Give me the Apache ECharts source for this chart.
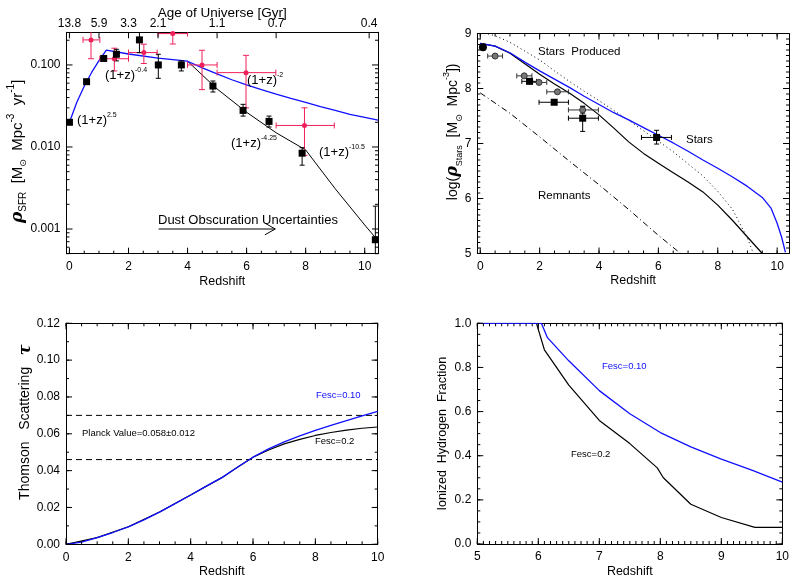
<!DOCTYPE html>
<html>
<head>
<meta charset="utf-8">
<script src="https://cdn.jsdelivr.net/npm/echarts@6/dist/echarts.min.js"></script>
</head>
<body style="margin:0;background:#fff">
<div id="chart" style="width:792px;height:581px"></div>
<script>
const FONT = 'Liberation Sans'

// ---- panel 1: star formation rate density (log) ----
const sfrModelBlue = [[0, 0.020], [0.25, 0.035], [0.5, 0.055], [0.75, 0.081], [1.0, 0.113], [1.25, 0.152], [2, 0.136], [3, 0.121], [4, 0.111],
  [4.5, 0.092], [5, 0.078], [5.5, 0.066], [6, 0.057], [6.5, 0.050], [7, 0.044], [7.5, 0.039], [8, 0.035], [8.5, 0.031], [9, 0.028], [9.5, 0.025], [10, 0.023], [10.45, 0.0212]]
const sfrModelBlack = [[4, 0.111], [5, 0.051], [6, 0.0265], [7, 0.0149], [8, 0.0092], [9, 0.0031], [10, 0.00112], [10.45, 0.00072]]
// [z, value, zlo, zhi, vlo, vhi]
const sfrSquares = [
  [0.0, 0.020, 0.0, 0.0, 0.020, 0.020],
  [0.58, 0.0625, 0.58, 0.58, 0.0625, 0.0625],
  [1.16, 0.120, 1.16, 1.16, 0.113, 0.128],
  [1.59, 0.135, 1.59, 1.59, 0.112, 0.155],
  [2.37, 0.202, 2.37, 2.37, 0.141, 0.27],
  [3.01, 0.100, 3.01, 3.01, 0.0687, 0.135],
  [3.79, 0.100, 3.79, 3.79, 0.0845, 0.112],
  [4.86, 0.0553, 4.86, 4.86, 0.0468, 0.0637],
  [5.88, 0.0279, 5.88, 5.88, 0.0238, 0.0331],
  [6.76, 0.0205, 6.76, 6.76, 0.0175, 0.0238],
  [7.88, 0.0084, 7.88, 7.88, 0.0060, 0.0098],
  [10.36, 0.00074, 10.36, 10.36, 0.0004, 0.0019]
]
const sfrRed = [
  [0.73, 0.202, 0.46, 1.03, 0.119, 0.255],
  [1.52, 0.119, 1.03, 2.0, 0.0845, 0.160],
  [2.52, 0.1415, 2.0, 2.97, 0.104, 0.179],
  [3.5, 0.241, 3.0, 4.0, 0.18, 0.27],
  [4.49, 0.100, 4.0, 5.0, 0.050, 0.151],
  [5.98, 0.0806, 5.0, 6.99, 0.030, 0.131],
  [7.96, 0.0183, 7.0, 8.97, 0.0079, 0.030]
]
const dustArrow = [[3.02, 0.001], [6.97, 0.001]]
const dustArrowHead = [[6.62, 0.00118], [6.97, 0.001], [6.62, 0.00085]]
const ageTickZ = [0, 1, 2, 3, 5, 7, 10.15]
const ageLabels = ['13.8', '5.9', '3.3', '2.1', '1.1', '0.7', '0.4']

// ---- panel 2: stellar mass density ----
const starsBlue = [[0, 8.82], [0.5, 8.77], [1, 8.65], [1.5, 8.48], [2, 8.32], [2.5, 8.17], [3, 8.02], [3.5, 7.86], [4, 7.71], [4.5, 7.56], [5, 7.43],
  [5.5, 7.29], [6, 7.15], [6.5, 7.01], [7, 6.86], [7.5, 6.70], [8, 6.55], [8.5, 6.39], [9, 6.22], [9.5, 6.02], [9.8, 5.82], [10, 5.55], [10.15, 5.3], [10.28, 5.02]]
const starsBlack = [[0, 8.82], [0.5, 8.77], [1, 8.64], [1.5, 8.45], [2, 8.26], [2.5, 8.08], [3, 7.92], [3.5, 7.73], [4, 7.52], [4.5, 7.28], [5, 7.03],
  [5.5, 6.82], [6, 6.64], [6.5, 6.47], [7, 6.30], [7.5, 6.12], [8, 5.88], [8.5, 5.60], [9, 5.30], [9.5, 5.0]]
const starsProduced = [[0, 9.03], [0.5, 8.96], [1, 8.84], [1.5, 8.68], [2, 8.52], [2.5, 8.32], [3, 8.13], [3.5, 7.95], [4, 7.78], [4.5, 7.60], [5, 7.42],
  [5.5, 7.23], [6, 7.04], [6.5, 6.85], [7, 6.63], [7.5, 6.41], [8, 6.13], [8.5, 5.80], [9, 5.28], [9.2, 5.0]]
const remnants = [[0, 7.92], [1, 7.55], [2, 7.12], [3, 6.68], [4, 6.25], [5, 5.80], [6, 5.33], [6.75, 5.0]]
const starsGray = [
  [0.5, 8.59, 0.25, 0.75, 8.59, 8.59],
  [1.48, 8.23, 1.23, 1.74, 8.23, 8.23],
  [1.98, 8.11, 1.74, 2.24, 8.11, 8.11],
  [2.6, 7.94, 2.24, 2.97, 7.91, 7.97],
  [3.45, 7.61, 2.97, 3.98, 7.55, 7.68]
]
const starsSquares = [
  [1.66, 8.13, 1.4, 1.9, 8.13, 8.13],
  [2.49, 7.75, 1.98, 2.97, 7.75, 7.75],
  [3.45, 7.46, 2.97, 3.98, 7.22, 7.67],
  [5.94, 7.11, 5.43, 6.44, 6.99, 7.24]
]
const starsLocal = [[0.09, 8.75]]

// ---- panel 3: Thomson optical depth ----
const tauBlue = [[0, 0], [0.5, 0.0012], [1, 0.0036], [1.5, 0.0064], [2, 0.0095], [2.5, 0.0133], [3, 0.0175], [3.5, 0.0221], [4, 0.0268], [4.5, 0.0316],
  [5, 0.0362], [5.05, 0.0370], [5.5, 0.0418], [6, 0.0473], [6.5, 0.0518], [7, 0.0556], [7.5, 0.0589], [8, 0.0619], [8.5, 0.0646], [9, 0.0672], [9.5, 0.0697], [10, 0.0722]]
const tauBlack = [[0, 0], [1, 0.0036], [2, 0.0095], [3, 0.0175], [4, 0.0268], [5, 0.0362], [5.5, 0.0418], [6, 0.0473], [6.5, 0.0512], [7, 0.0545],
  [7.5, 0.0570], [8, 0.0591], [8.5, 0.0607], [9, 0.0620], [9.5, 0.0630], [10, 0.0637]]
const planckHigh = [[0, 0.070], [10, 0.070]]
const planckLow = [[0, 0.046], [10, 0.046]]

// ---- panel 4: ionized fraction ----
const xionBlue = [[5, 1.0], [6.05, 1.0], [6.15, 0.935], [6.5, 0.83], [7, 0.695], [7.5, 0.59], [8, 0.505], [8.5, 0.44], [9, 0.385], [9.5, 0.335], [10, 0.28]]
const xionBlack = [[5, 1.0], [5.97, 1.0], [6.1, 0.88], [6.5, 0.72], [7, 0.56], [7.5, 0.455], [7.95, 0.345], [8.05, 0.30], [8.5, 0.18], [9, 0.12], [9.55, 0.0755], [10, 0.0755]]

// ---- tick values ----
const zMajor = [0, 2, 4, 6, 8, 10]
const z5Major = [5, 6, 7, 8, 9, 10]
const sfrMajor = [0.001, 0.01, 0.1]
const starsMajor = [5, 6, 7, 8, 9]
const tauMajor = [0, 0.02, 0.04, 0.06, 0.08, 0.10, 0.12]
const xionMajor = [0, 0.2, 0.4, 0.6, 0.8, 1.0]

function range(a, b, step) {
  const out = []
  for (let v = a; v <= b + 1e-9; v += step) out.push(+v.toFixed(6))
  return out
}
function logMinor(lo, hi) {
  const out = []
  ;[0.0001, 0.001, 0.01, 0.1].forEach(d => { for (let k = 2; k <= 9; k++) { const v = +(k * d).toPrecision(3); if (v >= lo && v <= hi) out.push(v) } })
  return out
}

const grids = [
  { left: 66.5, top: 32.3, width: 311.5, height: 221.4 },
  { left: 477.3, top: 33.5, width: 311.7, height: 220 },
  { left: 66, top: 323.3, width: 311.7, height: 221 },
  { left: 477.3, top: 323.3, width: 311.7, height: 220.7 }
]

const txt = { color: '#000', fontFamily: FONT, fontSize: 12 }
const richName = {
  g: { fontFamily: 'DejaVu Serif', fontStyle: 'italic', fontWeight: 'bold', fontSize: 16, lineHeight: 22 },
  G: { fontFamily: 'DejaVu Serif', fontStyle: 'italic', fontWeight: 'bold', fontSize: 17, lineHeight: 22 },
  sub: { fontFamily: FONT, fontSize: 9, verticalAlign: 'bottom', lineHeight: 22 },
  sup: { fontFamily: FONT, fontSize: 9, verticalAlign: 'top', lineHeight: 22 },
  SUB: { fontFamily: FONT, fontSize: 10, verticalAlign: 'bottom', lineHeight: 22 },
  SUP: { fontFamily: FONT, fontSize: 10, verticalAlign: 'top', lineHeight: 22 },
  n: { fontFamily: FONT, fontSize: 14, lineHeight: 22 },
  N: { fontFamily: FONT, fontSize: 15, lineHeight: 22 },
  m: { fontFamily: FONT, fontSize: 12.5, lineHeight: 22 },
  sun: { fontFamily: 'DejaVu Sans', fontSize: 9, verticalAlign: 'bottom', lineHeight: 22 }
}

const xAxes = [], yAxes = []
// one labelled axis plus a bare mirrored axis, so the frame is closed; tick marks are drawn by tickMarks()
function addAxes(dim, gi, cfg) {
  const list = dim === 'x' ? xAxes : yAxes
  const sides = dim === 'x' ? ['bottom', 'top'] : ['left', 'right']
  const main = list.length
  sides.forEach((side, k) => {
    const mirror = k === 1
    const lab = mirror ? cfg.mirrorLabel : { values: cfg.major, fmt: cfg.fmt, margin: cfg.margin }
    list.push({
      gridIndex: gi, type: cfg.type || 'value', position: side, min: cfg.min, max: cfg.max,
      axisLine: { show: true, onZero: false, lineStyle: { color: '#000', width: 1 } },
      axisTick: { show: false },
      axisLabel: lab ? Object.assign({ show: true, customValues: lab.values, formatter: lab.fmt, margin: lab.margin }, txt) : { show: false },
      splitLine: { show: false },
      name: mirror ? (cfg.mirrorName || '') : (cfg.name || ''),
      nameLocation: 'middle', nameGap: mirror ? cfg.mirrorNameGap : cfg.nameGap, nameMoveOverlap: false,
      nameRotate: dim === 'y' ? 90 : 0,
      nameTextStyle: Object.assign({}, txt, { fontSize: mirror ? 13.5 : 12.5, rich: richName })
    })
  })
  return main
}

// panel 1 axes
const x1 = addAxes('x', 0, {
  min: -0.1, max: 10.45, major: zMajor, fmt: v => String(Math.round(v)), margin: 7,
  name: 'Redshift', nameGap: 21,
  mirrorLabel: { values: ageTickZ, fmt: v => ageLabels[ageTickZ.indexOf(+v.toFixed(2))] || '', margin: 3 },
  mirrorName: 'Age of Universe [Gyr]', mirrorNameGap: 12
})
const y1 = addAxes('y', 0, {
  type: 'log', min: 0.0005, max: 0.25, major: sfrMajor, fmt: v => v.toFixed(3), margin: 6,
  name: '{G|ρ}{SUB|SFR}{N|  [M}{sun|⊙}{N|  Mpc}{SUP|-3}{N|  yr}{SUP|-1}{N|]    }', nameGap: 38
})
// panel 2 axes
const x2 = addAxes('x', 1, { min: -0.1, max: 10.4, major: zMajor, fmt: v => String(Math.round(v)), margin: 7, name: 'Redshift', nameGap: 21 })
const y2 = addAxes('y', 1, {
  min: 5, max: 9, major: starsMajor, fmt: v => String(Math.round(v)), margin: 6,
  name: '{n|      log(}{g|ρ}{sub|Stars}{n|  [M}{sun|⊙}{n|  Mpc}{sup|-3}{n|])}', nameGap: 13
})
// panel 3 axes
const x3 = addAxes('x', 2, { min: 0, max: 10, major: zMajor, fmt: v => String(Math.round(v)), margin: 7, name: 'Redshift', nameGap: 21 })
const y3 = addAxes('y', 2, {
  min: 0, max: 0.12, major: tauMajor, fmt: v => v.toFixed(2), margin: 6,
  name: '{n|      Thomson   Scattering   }{g|τ}', nameGap: 29.5
})
// panel 4 axes
const x4 = addAxes('x', 3, { min: 5, max: 10, major: z5Major, fmt: v => String(Math.round(v)), margin: 7, name: 'Redshift', nameGap: 21 })
const y4 = addAxes('y', 3, {
  min: 0, max: 1, major: xionMajor, fmt: v => v.toFixed(1), margin: 6,
  name: '{m|Ionized  Hydrogen  Fraction}', nameGap: 24
})

// inward tick marks on all four sides; each item sits on the frame, placed through the axes' own mapping
function tickMarks(xi, yi, box, spec) {
  const data = []
  const add = (vals, kind, side) => vals.forEach(v => {
    if (side === 1) data.push([v, box.ymin, kind, side])
    if (side === 2) data.push([v, box.ymax, kind, side])
    if (side === 3) data.push([box.xmin, v, kind, side])
    if (side === 4) data.push([box.xmax, v, kind, side])
  })
  ;['bottom', 'top', 'left', 'right'].forEach((s, i) => {
    const t = spec[s]
    if (!t) return
    add(t[0], 1, i + 1)
    add(t[1], 2, i + 1)
  })
  return {
    type: 'custom', xAxisIndex: xi, yAxisIndex: yi, clip: false, silent: true, z: 5, animation: false,
    encode: { x: 0, y: 1 }, data: data,
    renderItem: function (params, api) {
      const side = api.value(3), len = api.value(2) === 1 ? 6 : 3
      const a = api.coord([api.value(0), api.value(1)])
      let b = a
      if (side === 1) b = [a[0], a[1] - len]
      if (side === 2) b = [a[0], a[1] + len]
      if (side === 3) b = [a[0] + len, a[1]]
      if (side === 4) b = [a[0] - len, a[1]]
      return { type: 'line', shape: { x1: a[0], y1: a[1], x2: b[0], y2: b[1] }, style: { stroke: '#000', lineWidth: 1 } }
    }
  }
}

function line(xi, yi, data, color, width, type) {
  return {
    type: 'line', xAxisIndex: xi, yAxisIndex: yi, data: data, symbol: 'none', silent: true, z: 2,
    lineStyle: { color: color, width: width, type: type || 'solid' }, clip: true, animation: false
  }
}
function errorBars(xi, yi, data, color, cap) {
  return {
    type: 'custom', xAxisIndex: xi, yAxisIndex: yi, clip: true, silent: true, z: 3, animation: false,
    encode: { x: 0, y: 1 }, data: data,
    renderItem: function (params, api) {
      const z = api.value(0), v = api.value(1)
      const zlo = api.value(2), zhi = api.value(3), vlo = api.value(4), vhi = api.value(5)
      const st = { stroke: color, lineWidth: 1 }
      const kids = []
      const seg = (a, b) => kids.push({ type: 'line', shape: { x1: a[0], y1: a[1], x2: b[0], y2: b[1] }, style: st })
      if (zhi > zlo) {
        const a = api.coord([zlo, v]), b = api.coord([zhi, v])
        seg(a, b); seg([a[0], a[1] - cap], [a[0], a[1] + cap]); seg([b[0], b[1] - cap], [b[0], b[1] + cap])
      }
      if (vhi > vlo) {
        const a = api.coord([z, vlo]), b = api.coord([z, vhi])
        seg(a, b); seg([a[0] - cap, a[1]], [a[0] + cap, a[1]]); seg([b[0] - cap, b[1]], [b[0] + cap, b[1]])
      }
      return { type: 'group', children: kids }
    }
  }
}
function points(xi, yi, data, symbol, size, color, border) {
  return {
    type: 'scatter', xAxisIndex: xi, yAxisIndex: yi, data: data.map(d => [d[0], d[1]]), symbol: symbol, symbolSize: size,
    itemStyle: { color: color, borderColor: border || color, borderWidth: border ? 1 : 0, opacity: 1 }, silent: true, z: 4, animation: false
  }
}

const RED = '#f0205a', BLUE = '#1010ff'

const series = [
  // panel 1
  tickMarks(x1, y1, { xmin: -0.1, xmax: 10.45, ymin: 0.0005, ymax: 0.25 }, {
    bottom: [zMajor, range(0, 10.45, 0.5)], top: [ageTickZ, []],
    left: [sfrMajor, logMinor(0.0005, 0.25)], right: [sfrMajor, logMinor(0.0005, 0.25)]
  }),
  line(x1, y1, sfrModelBlack, '#000', 1),
  line(x1, y1, sfrModelBlue, BLUE, 1.3),
  line(x1, y1, dustArrow, '#000', 1),
  line(x1, y1, dustArrowHead, '#000', 1),
  errorBars(x1, y1, sfrRed, RED, 3),
  points(x1, y1, sfrRed, 'circle', 5, RED),
  errorBars(x1, y1, sfrSquares, '#000', 2.5),
  points(x1, y1, sfrSquares, 'rect', 7, '#000'),
  // panel 2
  tickMarks(x2, y2, { xmin: -0.1, xmax: 10.4, ymin: 5, ymax: 9 }, {
    bottom: [zMajor, range(0, 10.4, 0.5)], top: [zMajor, range(0, 10.4, 0.5)],
    left: [starsMajor, range(5, 9, 0.1)], right: [starsMajor, range(5, 9, 0.1)]
  }),
  line(x2, y2, remnants, '#000', 1, [6, 3, 1, 3]),
  line(x2, y2, starsProduced, '#000', 1, [1, 3]),
  line(x2, y2, starsBlack, '#000', 1.2),
  line(x2, y2, starsBlue, BLUE, 1.3),
  errorBars(x2, y2, starsGray, '#333', 2.5),
  points(x2, y2, starsGray, 'circle', 6, '#777', '#333'),
  errorBars(x2, y2, starsSquares, '#000', 2.5),
  points(x2, y2, starsSquares, 'rect', 7, '#000'),
  points(x2, y2, starsLocal, 'circle', 8, '#000'),
  // panel 3
  tickMarks(x3, y3, { xmin: 0, xmax: 10, ymin: 0, ymax: 0.12 }, {
    bottom: [zMajor, range(0, 10, 0.5)], top: [zMajor, range(0, 10, 0.5)],
    left: [tauMajor, range(0, 0.12, 0.01)], right: [tauMajor, range(0, 0.12, 0.01)]
  }),
  line(x3, y3, planckHigh, '#000', 1, [6, 4]),
  line(x3, y3, planckLow, '#000', 1, [6, 4]),
  line(x3, y3, tauBlack, '#000', 1.2),
  line(x3, y3, tauBlue, BLUE, 1.3),
  // panel 4
  tickMarks(x4, y4, { xmin: 5, xmax: 10, ymin: 0, ymax: 1 }, {
    bottom: [z5Major, range(5, 10, 0.1)], top: [z5Major, range(5, 10, 0.1)],
    left: [xionMajor, range(0, 1, 0.05)], right: [xionMajor, range(0, 1, 0.05)]
  }),
  line(x4, y4, xionBlack, '#000', 1.2),
  line(x4, y4, xionBlue, BLUE, 1.3)
]

const noteRich = {
  b: { fontFamily: FONT, fontSize: 13, fill: '#000' },
  s: { fontFamily: FONT, fontSize: 7, fill: '#000', verticalAlign: 'top', lineHeight: 16 }
}
function note(x, y, text, size, color, rich) {
  return {
    type: 'text', x: x, y: y, silent: true, z: 10,
    style: { text: text, fontFamily: FONT, fontSize: size, fill: color || '#000', verticalAlign: 'middle', align: 'left', rich: rich }
  }
}

const graphics = [
  note(77, 120, '{b|(1+z)}{s|2.5}', 13, '#000', noteRich),
  note(105, 75, '{b|(1+z)}{s|-0.4}', 13, '#000', noteRich),
  note(247, 80, '{b|(1+z)}{s|-2}', 13, '#000', noteRich),
  note(231, 143, '{b|(1+z)}{s|-4.25}', 13, '#000', noteRich),
  note(319, 152, '{b|(1+z)}{s|-10.5}', 13, '#000', noteRich),
  note(158, 220, 'Dust Obscuration Uncertainties', 13),
  note(538, 52, 'Stars  Produced', 11.5),
  note(686, 140, 'Stars', 11.5),
  note(538, 196, 'Remnants', 11.5),
  note(82, 433, 'Planck Value=0.058±0.012', 9.5),
  note(316, 395, 'Fesc=0.10', 9.5, BLUE),
  note(315, 441, 'Fesc=0.2', 9.5),
  note(602, 366, 'Fesc=0.10', 9.5, BLUE),
  note(571, 454, 'Fesc=0.2', 9.5)
]

const chart = echarts.init(document.getElementById('chart'), null, { renderer: 'canvas' })
chart.setOption({
  backgroundColor: '#fff',
  animation: false,
  textStyle: { fontFamily: FONT },
  grid: grids.map(g => Object.assign({ containLabel: false }, g)),
  xAxis: xAxes,
  yAxis: yAxes,
  series: series,
  graphic: graphics
})
</script>
</body>
</html>
